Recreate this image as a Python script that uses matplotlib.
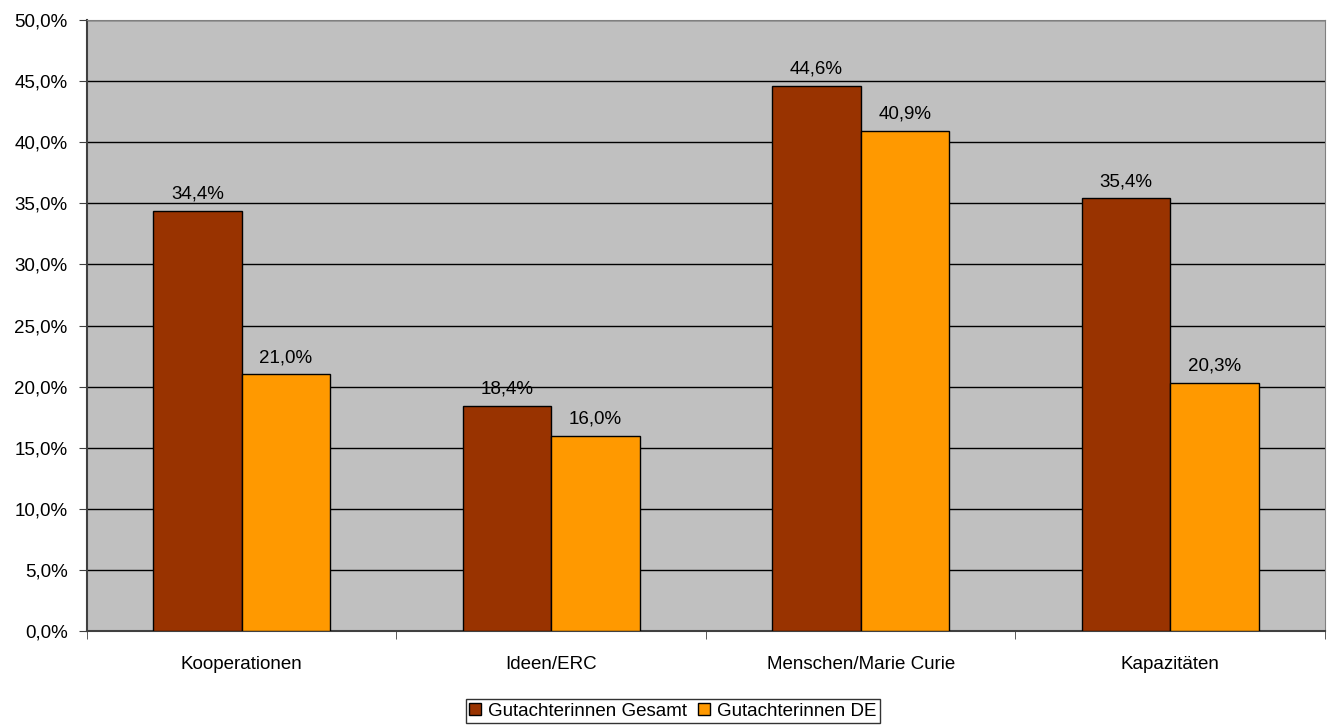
import numpy as np
import matplotlib.pyplot as plt
from matplotlib.ticker import FuncFormatter, FixedLocator

plt.rcParams['font.family'] = ['Liberation Sans', 'DejaVu Sans']

categories = ['Kooperationen', 'Ideen/ERC', 'Menschen/Marie Curie', 'Kapazitäten']
gesamt = [34.4, 18.4, 44.6, 35.4]
de = [21.0, 16.0, 40.9, 20.3]
series_names = ['Gutachterinnen Gesamt', 'Gutachterinnen DE']
colors = ['#993300', '#FF9900']

fs = 13.5

fig = plt.figure(figsize=(13.3, 7.27), dpi=100)
ax = fig.add_axes([0.0654, 0.132, 0.9308, 0.8405])
ax.set_facecolor('#C0C0C0')

x = np.arange(len(categories))
w = 0.286
b1 = ax.bar(x - w / 2, gesamt, w, color=colors[0], edgecolor='black', linewidth=1, label=series_names[0], zorder=3)
b2 = ax.bar(x + w / 2, de, w, color=colors[1], edgecolor='black', linewidth=1, label=series_names[1], zorder=3)

def pct(v):
    return f'{v:.1f}%'.replace('.', ',')

for bars, vals in ((b1, gesamt), (b2, de)):
    for r, v in zip(bars, vals):
        ax.annotate(pct(v), (r.get_x() + r.get_width() / 2, v), xytext=(0, 6),
                    textcoords='offset points', ha='center', va='bottom', fontsize=fs, zorder=4)

ax.set_xlim(-0.5, len(categories) - 0.5)
ax.set_ylim(0, 50)
ax.set_yticks(np.arange(0, 50.1, 5))
ax.yaxis.set_major_formatter(FuncFormatter(lambda v, p: pct(v)))
ax.yaxis.grid(True, color='black', linewidth=1, zorder=1)
ax.set_axisbelow(True)

ax.set_xticks(x)
ax.set_xticklabels(categories, fontsize=fs)
ax.xaxis.set_minor_locator(FixedLocator(np.arange(-0.5, len(categories), 1)))
ax.tick_params(axis='x', which='major', length=0, pad=18)
ax.tick_params(axis='x', which='minor', length=6, color='#404040', direction='out')
ax.tick_params(axis='y', length=6, color='#404040', labelsize=fs, pad=8)

for s in ['top', 'right']:
    ax.spines[s].set_color('#808080')
for s in ['left', 'bottom']:
    ax.spines[s].set_color('#404040')
ax.spines['left'].set_linewidth(1.5)
ax.spines['bottom'].set_linewidth(1.5)

leg = fig.legend(loc='lower center', bbox_to_anchor=(0.506, 0.005), ncol=2, fontsize=fs,
                 frameon=True, fancybox=False, edgecolor='black', handlelength=0.6,
                 handleheight=0.6, handletextpad=0.4, columnspacing=0.6, borderpad=0.2,
                 borderaxespad=0)
leg.get_frame().set_linewidth(1)

fig.savefig('out.png', dpi=100)
